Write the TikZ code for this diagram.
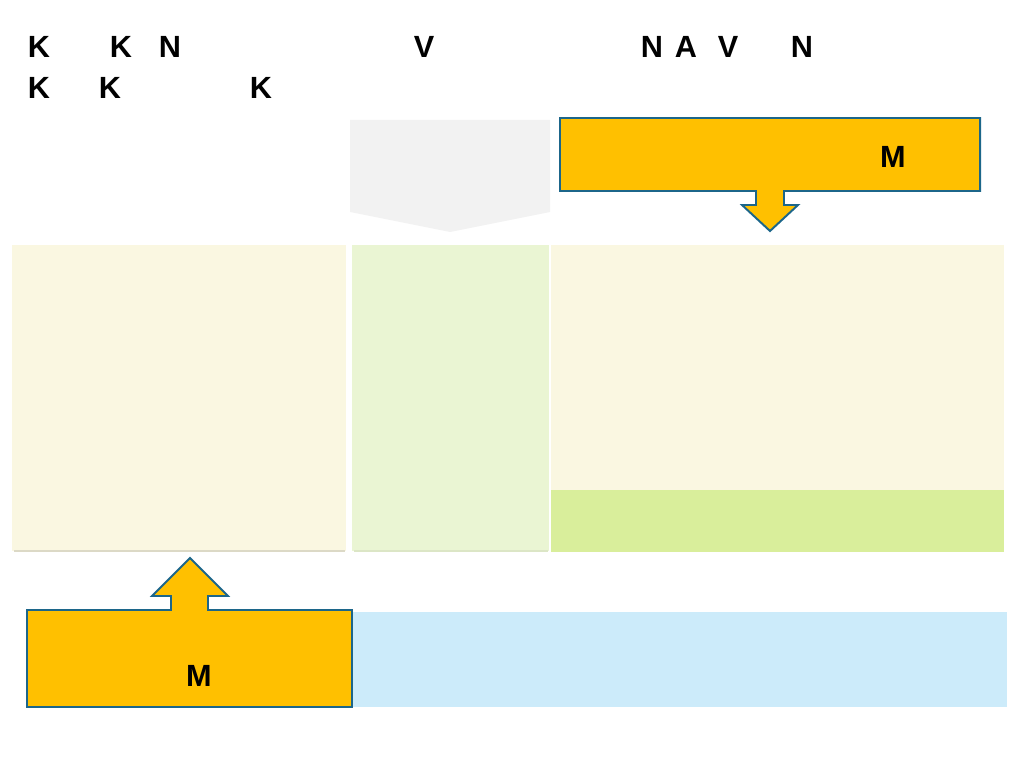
\documentclass[tikz,border=0pt]{standalone}
\usepackage{fontspec}
\setmainfont{Liberation Sans}
\definecolor{callfill}{RGB}{255,192,0}
\definecolor{callline}{RGB}{28,102,138}
\definecolor{cream}{RGB}{250,247,225}
\definecolor{palegreen}{RGB}{234,245,211}
\definecolor{limeband}{RGB}{217,238,155}
\definecolor{skyband}{RGB}{204,235,250}
\definecolor{fadegray}{RGB}{242,242,242}
\tikzset{
  letter/.style={font=\fontsize{21.8}{26}\selectfont\bfseries,inner sep=0pt,anchor=center},
  callout/.style={fill=callfill,draw=callline,line width=1.4pt,line join=miter},
  panel/.style={draw=none}
}
\begin{document}
\begin{tikzpicture}[x=0.025cm,y=-0.025cm]
            \useasboundingbox (0,0) rectangle (1024,768);
            % faded step shape
            \fill[fadegray] (350,120) -- (550,120) -- (550,212) -- (450,232) -- (350,212) -- cycle;
            % panels
            \fill[panel,cream] (12,245) rectangle (346,551);
            \fill[panel,palegreen] (352,245) rectangle (549,551);
            \fill[panel,cream] (551,245) rectangle (1004,490);
            \fill[panel,limeband] (551,490) rectangle (1004,552);
            \draw[line width=1.5pt,color=black!12!cream] (14,551) -- (345,551);
            \draw[line width=1.5pt,color=black!6!palegreen] (354,551) -- (548,551);
            \fill[panel,skyband] (352,612) rectangle (1007,707);
            % top callout with down arrow
            \draw[callout] (560,118) -- (980,118) -- (980,191) -- (784,191) -- (784,205)
                  -- (798,205) -- (770,231) -- (742,205) -- (756,205) -- (756,191)
                  -- (560,191) -- cycle;
            % bottom callout with up arrow
            \draw[callout] (27,610) -- (171,610) -- (171,596) -- (152,596) -- (190,558)
                  -- (228,596) -- (208,596) -- (208,610) -- (352,610) -- (352,707)
                  -- (27,707) -- cycle;
            \node[letter] (mtop) at (893,157) {M};
            \node[letter] (mbot) at (199,676) {M};
            % title letters
            \node[letter] (ta) at (39,47) {K};
            \node[letter] (tb) at (121,47) {K};
            \node[letter] (tc) at (170,47) {N};
            \node[letter] (td) at (424,47) {V};
            \node[letter] (te) at (652,47) {N};
            \node[letter] (tf) at (686,47) {A};
            \node[letter] (tg) at (728,47) {V};
            \node[letter] (th) at (802,47) {N};
            \node[letter] (ti) at (39,88) {K};
            \node[letter] (tj) at (110,88) {K};
            \node[letter] (tk) at (261,88) {K};
\end{tikzpicture}
\end{document}
